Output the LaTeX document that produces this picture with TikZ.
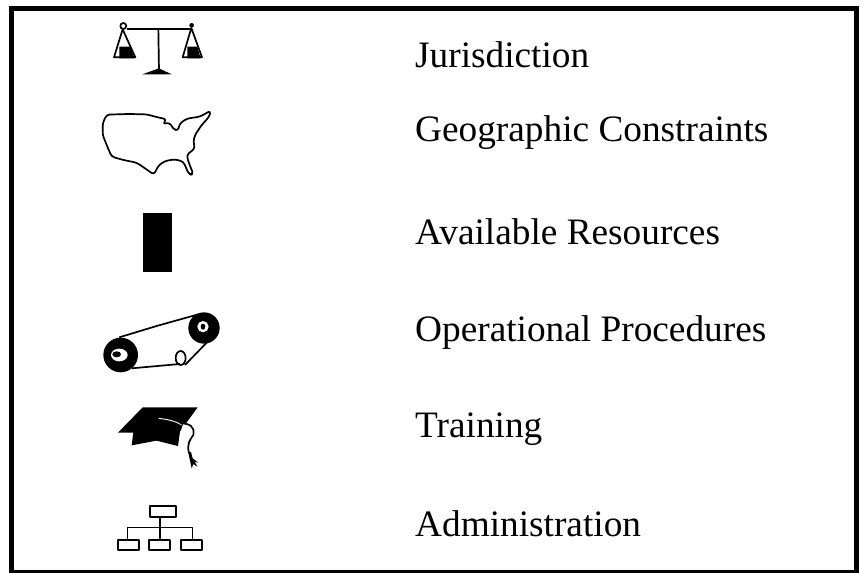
\documentclass[tikz,border=0pt]{standalone}
\usepackage{fontspec}
\setmainfont{Liberation Serif}
\tikzset{
 lab/.style={anchor=base west,inner sep=0pt,font=\fontsize{37.3}{42}\selectfont,text=black},
 ink/.style={draw=black,line width=1.7pt,line join=round},
 thin ink/.style={draw=black,line width=1.3pt,line join=round},
}
\begin{document}
\begin{tikzpicture}[x=1pt,y=-1pt]
\useasboundingbox (0,0) rectangle (863,573);
\draw[line width=5pt] (11,8) rectangle (856.5,572.5);
\node[lab] (t1) at (415,67.5) {Jurisdiction};
\node[lab] (t2) at (415,141.5) {Geographic Constraints};
\node[lab] (t3) at (415,244) {Available Resources};
\node[lab] (t4) at (415,341) {Operational Procedures};
\node[lab] (t5) at (415,437) {Training};
\node[lab] (t6) at (415,536) {Administration};
\begin{scope}[shift={(90,0)},x=0.3333pt,y=-0.3333pt]
\draw[ink] (100,78) circle (9);
\draw[ink] (112,86) -- (305,86);
\fill (305,76) circle (7);
\draw[ink] (205,86) -- (207,212);
\fill (157,223) -- (207,205) -- (245,223) -- cycle;
\draw[ink] (98,88) -- (72,172) -- (136,172) -- cycle;
\fill (88,140) -- (120,140) -- (134,175) -- (88,175) -- cycle;
\draw[ink] (304,84) -- (278,172) -- (336,172) -- cycle;
\fill (292,140) -- (322,140) -- (332,175) -- (292,175) -- cycle;
\draw[ink,rounded corners=3pt] (50,344) -- (115,342) -- (170,343) -- (195,350) -- (230,358) -- (218,372) -- (240,368) -- (250,388) -- (265,392) -- (268,372) -- (290,356) -- (330,350) -- (362,332) -- (358,350) -- (335,375) -- (315,405) -- (310,425) -- (315,445) -- (290,465) -- (297,490) -- (310,522) -- (298,525) -- (280,485) -- (255,478) -- (225,483) -- (205,497) -- (192,524) -- (165,505) -- (140,488) -- (100,480) -- (65,470) -- (52,440) -- (38,405) -- (38,370) -- cycle;
\end{scope}
\fill (142.5,213) rectangle (172,272);
\begin{scope}[shift={(90,200)},x=0.3333pt,y=-0.3333pt]
\draw[ink] (88,412) -- (200,378) -- (325,343);
\draw[ink] (125,505) -- (270,492);
\draw[ink] (285,495) -- (350,428);
\draw[ink] (272,474) ellipse (15 and 21);
\fill (92,465) circle (52);
\fill[white] (88,465) ellipse (25 and 19);
\fill (80,463) ellipse (13 and 9);
\fill (342,384) circle (47);
\fill[white] (339,380) ellipse (17 and 17);
\fill (339,380) ellipse (7 and 9);
\end{scope}
\begin{scope}[shift={(90,390)},x=0.3333pt,y=-0.3333pt]
\fill (158,52) -- (323,52) -- (270,125) -- (264,168) -- (200,152) -- (125,166) -- (130,128) -- (84,128) -- cycle;
\draw[white,line width=.9pt] (206,85) .. controls (230,88) and (255,92) .. (275,105);
\fill[white] (272,125) -- (280,100) -- (300,104) -- (300,150) -- (268,168) -- cycle;
\draw[ink] (270,100) .. controls (300,100) and (315,110) .. (310,135) .. controls (300,150) and (290,160) .. (297,190);
\fill (295,188) -- (303,186) -- (308,205) -- (325,218) -- (314,215) -- (322,230) -- (310,222) -- (305,235) -- cycle;
\draw[ink] (180,348) rectangle (259,382);
\draw[ink] (84,449) rectangle (146,479);
\draw[ink] (177,449) rectangle (240,479);
\draw[ink] (273,449) rectangle (337,479);
\draw[thin ink] (210,382) -- (210,449);
\draw[thin ink] (113,449) -- (113,412) -- (307,412) -- (307,449);
\end{scope}
\end{tikzpicture}
\end{document}
